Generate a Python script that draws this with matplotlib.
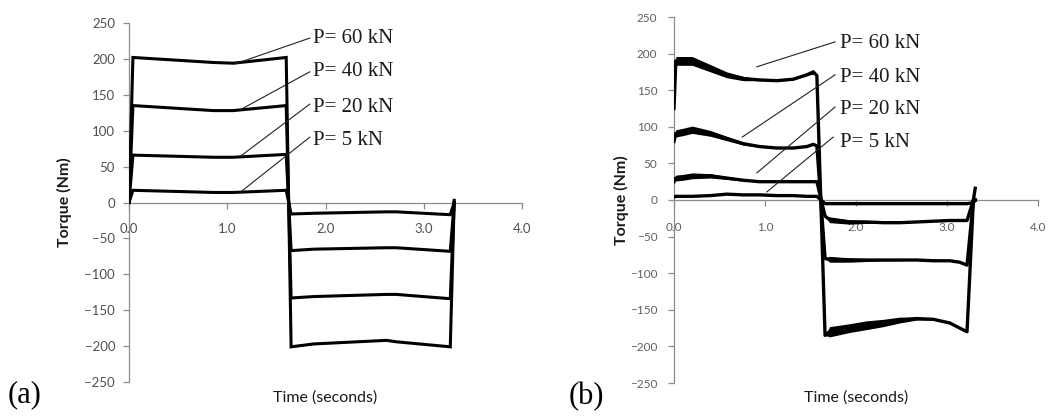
import matplotlib
matplotlib.use("Agg")
import matplotlib.pyplot as plt

# (a) torque vs time, idealised
time_a = [0.0, 0.04, 0.86, 1.06, 1.60, 1.65, 1.88, 2.62, 2.72, 3.27, 3.31]
torque_a_60 = [0, 202, 195, 194, 202, -201, -197, -192, -194, -201, 3]
torque_a_40 = [0, 135, 128, 128, 135, -133, -131, -128, -128, -134, 0]
torque_a_20 = [0, 66, 63, 63, 67, -67, -65, -63, -63, -68, 0]
torque_a_5 = [0, 17, 14, 14, 17, -16, -15, -13, -13, -17, 0]

# (b) torque vs time, measured (with ripple half-width)
time_b = [0.00, 0.02, 0.10, 0.20, 0.40, 0.58, 0.76, 0.94, 1.13, 1.31, 1.46, 1.53, 1.57,
          1.66, 1.71, 1.93, 2.12, 2.30, 2.48, 2.67, 2.85, 3.03, 3.14, 3.22, 3.29, 3.31]
torque_b_60 = [125, 190, 190, 190, 180, 171, 166, 164, 163, 165, 171, 175, 170,
               -185, -180, -175, -171, -168, -164, -162, -163, -168, -175, -180, 0, 16]
ripple_b_60 = [0, 6, 6, 6, 5, 4, 3, 1, 1, 1, 1, 3, 0,
               0, 7, 6, 6, 5, 4, 2, 1, 1, 1, 1, 0, 0]
torque_b_40 = [80, 91, 93, 96, 91, 84, 77, 73, 71, 71, 73, 76, 74,
               -80, -81, -82, -82, -82, -82, -82, -83, -83, -85, -89, 0, 0]
ripple_b_40 = [0, 5, 5, 5, 4, 3, 2, 1, 0, 0, 0, 0, 0,
               0, 4, 3, 2, 1, 1, 0, 0, 0, 0, 0, 0, 0]
torque_b_20 = [25, 30, 31, 33, 33, 30, 27, 25, 25, 25, 25, 25, 25,
               -22, -27, -30, -30, -31, -31, -30, -29, -28, -28, -28, 0, 0]
ripple_b_20 = [0, 4, 4, 4, 3, 2, 1, 0, 0, 0, 0, 0, 0,
               0, 4, 3, 2, 1, 0, 0, 0, 0, 0, 0, 0, 0]
torque_b_5 = [4, 5, 5, 5, 6, 8, 7, 7, 6, 6, 5, 5, 5,
              -5, -5, -5, -5, -5, -5, -5, -5, -5, -5, -5, -4, 0]

loads = ["P= 60 kN", "P= 40 kN", "P= 20 kN", "P= 5 kN"]
x_ticks = [0, 1, 2, 3, 4]
x_ticklabels = ["0.0", "1.0", "2.0", "3.0", "4.0"]
y_ticks = [-250, -200, -150, -100, -50, 0, 50, 100, 150, 200, 250]

fig = plt.figure(figsize=(10.55, 4.17), dpi=100)

axis_grey = "#8c8c8c"


def style_axes(ax, tick_size, tick_color, xpad, ypad):
    ax.set_xlim(0, 4)
    ax.set_ylim(-250, 250)
    ax.spines["top"].set_visible(False)
    ax.spines["right"].set_visible(False)
    ax.spines["bottom"].set_position(("data", 0))
    for s in ("left", "bottom"):
        ax.spines[s].set_color(axis_grey)
        ax.spines[s].set_linewidth(0.9)
    ax.set_xticks(x_ticks)
    ax.set_xticklabels(x_ticklabels)
    ax.set_yticks(y_ticks)
    ax.tick_params(axis="both", direction="out", length=4, width=0.9,
                   color=axis_grey, labelcolor=tick_color, labelsize=tick_size)
    ax.tick_params(axis="x", pad=xpad)
    ax.tick_params(axis="y", pad=ypad)
    for lab in ax.get_xticklabels() + ax.get_yticklabels():
        lab.set_family("Lato")
    ax.set_axisbelow(True)
    ax.patch.set_alpha(0)


# ---------- (a) ----------
ax1 = fig.add_axes([129 / 1055, 1 - 382 / 417, 393 / 1055, 359 / 417])
style_axes(ax1, 9.5, "#505050", 11, 6)
for vals in (torque_a_60, torque_a_40, torque_a_20, torque_a_5):
    ax1.plot(time_a, vals, color="black", lw=2.2, solid_joinstyle="miter", zorder=3)

ann_a = [((1.08, 193), (1.84, 229)), ((1.13, 129), (1.84, 182)),
         ((1.13, 64), (1.84, 137)), ((1.13, 14), (1.84, 91))]
text_a = [229, 182, 133, 87]
for lab, (p0, p1), ty in zip(loads, ann_a, text_a):
    ax1.plot([p0[0], p1[0]], [p0[1], p1[1]], color="#222222", lw=0.8, zorder=3)
    ax1.text(1.87, ty, lab, family="Liberation Serif", fontsize=15,
             color="#1a1a1a", va="center", ha="left")

ax1.text(0.5, -0.042, "Time (seconds)", transform=ax1.transAxes, ha="center",
         va="center", family="Lato", fontsize=11.5, color="#1a1a1a")
ax1.text(-0.163, 0.5, "Torque (Nm)", transform=ax1.transAxes, ha="center",
         va="center", rotation=90, family="Lato", fontweight="bold",
         fontsize=11.5, color="#1a1a1a")

# ---------- (b) ----------
ax2 = fig.add_axes([674 / 1055, 1 - 383 / 417, 364 / 1055, 366 / 417])
style_axes(ax2, 8.5, "#606060", 12, 8)
for vals, rip in ((torque_b_60, ripple_b_60), (torque_b_40, ripple_b_40),
                  (torque_b_20, ripple_b_20), (torque_b_5, None)):
    if rip is not None:
        lo = [v - r for v, r in zip(vals, rip)]
        hi = [v + r for v, r in zip(vals, rip)]
        ax2.fill_between(time_b, lo, hi, color="black", lw=0, zorder=3)
    ax2.plot(time_b, vals, color="black", lw=2.4, zorder=3)

ann_b = [((0.91, 182), (1.77, 216)), ((0.75, 86), (1.77, 171)),
         ((0.91, 37), (1.77, 127)), ((1.02, 11), (1.75, 86))]
text_b = [214, 168, 123, 78]
for lab, (p0, p1), ty in zip(loads, ann_b, text_b):
    ax2.plot([p0[0], p1[0]], [p0[1], p1[1]], color="#222222", lw=0.8, zorder=3)
    ax2.text(1.82, ty, lab, family="Liberation Serif", fontsize=15,
             color="#1a1a1a", va="center", ha="left")

ax2.text(0.5, -0.04, "Time (seconds)", transform=ax2.transAxes, ha="center",
         va="center", family="Lato", fontsize=11.5, color="#1a1a1a")
ax2.text(-0.143, 0.5, "Torque (Nm)", transform=ax2.transAxes, ha="center",
         va="center", rotation=90, family="Lato", fontweight="bold",
         fontsize=11.5, color="#1a1a1a")

# panel letters
fig.text(25 / 1055, 1 - 395 / 417, "(a)", family="Liberation Serif", fontsize=22,
         ha="center", va="center")
fig.text(586 / 1055, 1 - 397 / 417, "(b)", family="Liberation Serif", fontsize=22,
         ha="center", va="center")

fig.savefig("out.png", dpi=100)
